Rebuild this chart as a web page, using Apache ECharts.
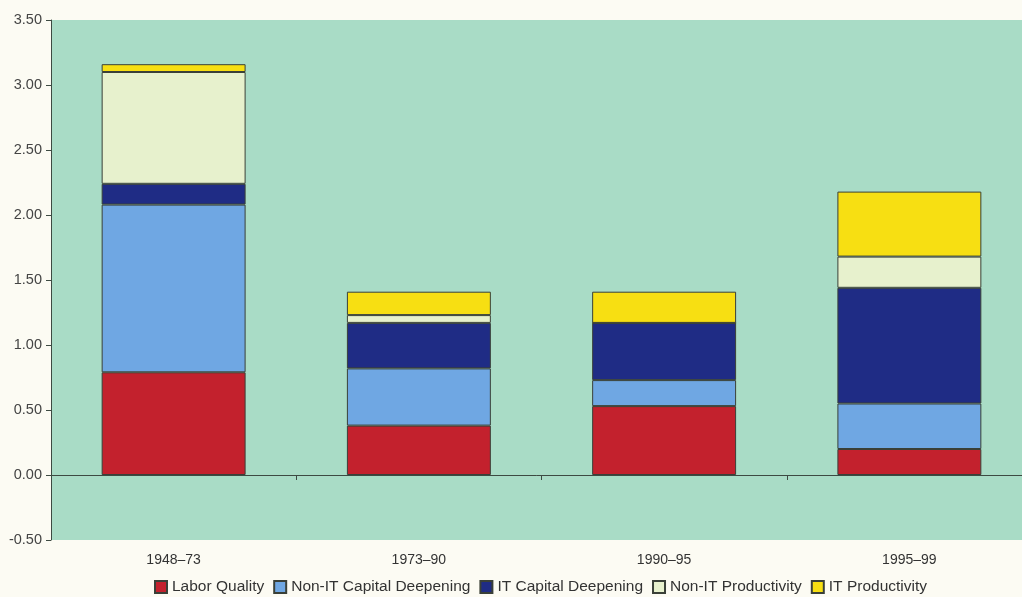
<!DOCTYPE html>
<html>
<head>
<meta charset="utf-8">
<script src="https://cdn.jsdelivr.net/npm/echarts@6/dist/echarts.min.js"></script>
<style>
html,body{margin:0;padding:0;background:#fcfbf3;}
#c{width:1022px;height:597px;}
</style>
</head>
<body>
<div id="c"></div>
<script>
const categories = ['1948–73', '1973–90', '1990–95', '1995–99'];
const laborQuality = [0.79, 0.38, 0.53, 0.20];
const nonITCapital = [1.29, 0.44, 0.20, 0.35];
const itCapital = [0.16, 0.35, 0.44, 0.89];
const nonITProductivity = [0.86, 0.06, 0.00, 0.24];
const itProductivity = [0.06, 0.18, 0.24, 0.50];
const yTicks = [-0.5, 0, 0.5, 1, 1.5, 2, 2.5, 3, 3.5];

const seriesDefs = [
  ['Labor Quality', laborQuality, '#c3212d'],
  ['Non-IT Capital Deepening', nonITCapital, '#6fa7e3'],
  ['IT Capital Deepening', itCapital, '#1f2c85'],
  ['Non-IT Productivity', nonITProductivity, '#e7f1cd'],
  ['IT Productivity', itProductivity, '#f7df12']
];

const chart = echarts.init(document.getElementById('c'), null, {renderer: 'canvas'});
chart.setOption({
  backgroundColor: '#fcfbf3',
  animation: false,
  textStyle: {fontFamily: 'Liberation Sans, Arial, sans-serif'},
  grid: {left: 51, width: 981, top: 20, height: 520, outerBoundsMode: 'none', containLabel: false,
         show: true, backgroundColor: '#a9dcc6', borderWidth: 0},
  legend: {
    left: 149, top: 574, itemWidth: 12, itemHeight: 12, itemGap: 9,
    icon: 'rect',
    textStyle: {fontSize: 15.5, color: '#333'},
    data: seriesDefs.map(s => s[0])
  },
  xAxis: [
    {
      type: 'category', data: categories, position: 'bottom',
      axisLine: {onZero: true, lineStyle: {color: '#3d4a42', width: 1}},
      axisTick: {show: true, length: 5, lineStyle: {color: '#3d4a42'}},
      axisLabel: {show: false}
    },
    {
      type: 'category', data: categories, position: 'bottom',
      axisLine: {show: false, onZero: false}, axisTick: {show: false},
      axisLabel: {fontSize: 14, color: '#333', margin: 13}
    }
  ],
  yAxis: {
    type: 'value', min: yTicks[0], max: yTicks[yTicks.length - 1], interval: 0.5,
    axisLine: {show: true, lineStyle: {color: '#3d4a42'}},
    axisTick: {show: true, length: 5, lineStyle: {color: '#3d4a42'}},
    splitLine: {show: false},
    axisLabel: {fontSize: 14.5, color: '#444', margin: 9, formatter: v => v.toFixed(2)}
  },
  series: seriesDefs.map(s => ({
    name: s[0], type: 'bar', stack: 'total', data: s[1], barWidth: '58.7%',
    xAxisIndex: 0,
    itemStyle: {color: s[2], borderColor: '#3a4038', borderWidth: 1}
  }))
});
</script>
</body>
</html>
